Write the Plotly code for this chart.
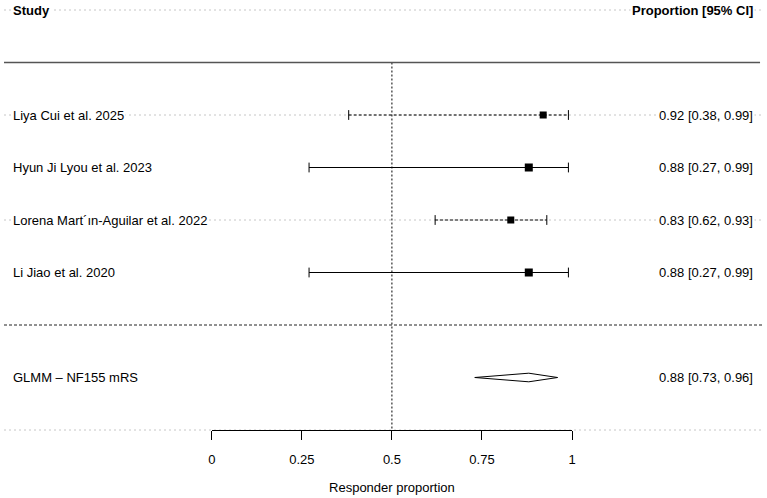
import plotly.graph_objects as go

# ---- data ----
studies = ["Liya Cui et al. 2025", "Hyun Ji Lyou et al. 2023",
           "Lorena Mart\u00b4\u0131n-Aguilar et al. 2022", "Li Jiao et al. 2020"]
est = [0.92, 0.88, 0.83, 0.88]
lo = [0.38, 0.27, 0.62, 0.27]
hi = [0.99, 0.99, 0.93, 0.99]
dashes = ["3px,2px", "solid", "3px,2px", "solid"]
sq_size = [7, 8, 7, 8]

summary_label = "GLMM \u2013 NF155 mRS"
sum_est, sum_lo, sum_hi = 0.88, 0.73, 0.96

tick_vals = [0, 0.25, 0.5, 0.75, 1]
tick_text = ["0", "0.25", "0.5", "0.75", "1"]
x_title = "Responder proportion"
head_left = "Study"
head_right = "Proportion [95% CI]"

# ---- layout geometry ----
W, H = 767, 498
X0PX, X1PX = 210, 574          # pixel positions of 0 and 1
ROW0PX, ROWH = 10, 52.5        # header row pixel and row spacing
y_top = -ROW0PX / ROWH
y_bot = (H - ROW0PX) / ROWH
study_rows = [2, 3, 4, 5]
sum_row = 7
axis_row = 8

FONT = "Liberation Sans, Arial, Helvetica, sans-serif"

fig = go.Figure()

# gray dotted row guides
for r in [0, 2, 4, 8]:
    fig.add_shape(type="line", xref="paper", yref="y", x0=0, x1=1, y0=r, y1=r,
                  line=dict(color="#c6c6c6", width=1, dash="2px,3px"), layer="below")
# solid top line
fig.add_shape(type="line", xref="paper", yref="y", x0=0, x1=764 / W, y0=1, y1=1,
              line=dict(color="#555555", width=1.6))
# dashed separator
fig.add_shape(type="line", xref="paper", yref="y", x0=0, x1=1, y0=6, y1=6,
              line=dict(color="#222222", width=1, dash="3px,2px"))
# reference line at 0.5
fig.add_trace(go.Scatter(x=[0.5, 0.5], y=[1, axis_row], mode="lines",
                         line=dict(color="black", width=1, dash="2px,2px"),
                         hoverinfo="skip", showlegend=False, cliponaxis=False))

# study CIs
for i, r in enumerate(study_rows):
    fig.add_trace(go.Scatter(x=[lo[i], hi[i]], y=[r, r], mode="lines",
                             line=dict(color="black", width=1, dash=dashes[i]),
                             hoverinfo="skip", showlegend=False))
    fig.add_trace(go.Scatter(x=[lo[i], hi[i]], y=[r, r], mode="markers",
                             marker=dict(symbol="line-ns-open", size=7, color="black",
                                         line=dict(color="black", width=1)),
                             hoverinfo="skip", showlegend=False))
    fig.add_trace(go.Scatter(x=[est[i]], y=[r], mode="markers",
                             marker=dict(symbol="square", size=sq_size[i], color="black",
                                         line=dict(width=0)),
                             hoverinfo="skip", showlegend=False))

# summary diamond
dh = 4.3 / ROWH
fig.add_trace(go.Scatter(x=[sum_lo, sum_est, sum_hi, sum_est, sum_lo],
                         y=[sum_row, sum_row - dh, sum_row, sum_row + dh, sum_row],
                         mode="lines", fill="toself", fillcolor="white",
                         line=dict(color="black", width=1),
                         hoverinfo="skip", showlegend=False))

# text annotations
def ann(text, x, y, anchor, bold=False):
    fig.add_annotation(text=f"<b>{text}</b>" if bold else text, xref="paper", yref="y",
                       x=x, y=y, xanchor=anchor, yanchor="middle", showarrow=False,
                       font=dict(family=FONT, size=13, color="black"),
                       bgcolor="white", borderpad=1)

LX, RX = 7 / W, 759 / W
ann(head_left, LX, 0, "left", bold=True)
ann(head_right, RX, 0, "right", bold=True)
for i, r in enumerate(study_rows):
    ann(studies[i], LX, r, "left")
    ann(f"{est[i]:.2f} [{lo[i]:.2f}, {hi[i]:.2f}]", RX, r, "right")
ann(summary_label, LX, sum_row, "left")
ann(f"{sum_est:.2f} [{sum_lo:.2f}, {sum_hi:.2f}]", RX, sum_row, "right")

fig.update_layout(
    width=W, height=H, margin=dict(l=0, r=0, t=0, b=0),
    paper_bgcolor="white", plot_bgcolor="rgba(0,0,0,0)",
    font=dict(family=FONT, size=13, color="black"),
    showlegend=False,
    xaxis=dict(domain=[X0PX / W, X1PX / W], range=[0, 1], anchor="free",
               position=1 - (axis_row * ROWH + ROW0PX) / H,
               showline=True, linecolor="black", linewidth=1,
               ticks="outside", ticklen=9, tickwidth=1, tickcolor="black",
               tickvals=tick_vals, ticktext=tick_text, showgrid=False, zeroline=False,
               ticklabelstandoff=8,
               title=dict(text=x_title, standoff=17, font=dict(size=13))),
    yaxis=dict(domain=[0, 1], range=[y_bot, y_top], visible=False, showgrid=False,
               zeroline=False),
)

fig.write_html("out.html")
